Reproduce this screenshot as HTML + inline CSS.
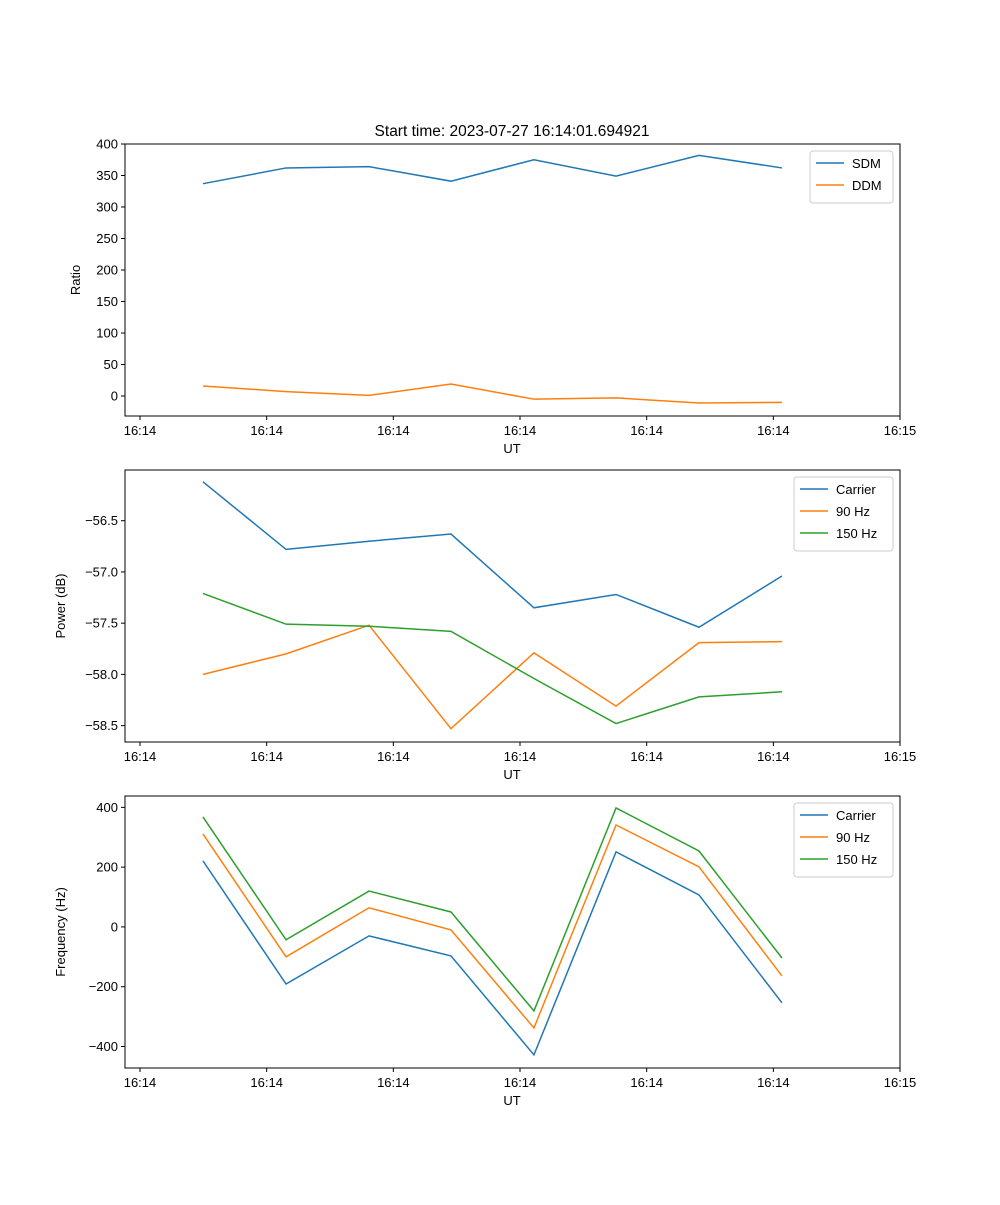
<!DOCTYPE html>
<html><head><meta charset="utf-8"><style>
body{margin:0;background:#fff}
svg{font-family:"Liberation Sans","DejaVu Sans",sans-serif}
</style></head><body>
<svg id="fig" width="1000" height="1200" xmlns="http://www.w3.org/2000/svg"></svg>
<script>
const xTickLabels=["16:14","16:14","16:14","16:14","16:14","16:14","16:15"];
const xTimes=[0.497,1.153,1.808,2.455,3.11,3.758,4.413,5.068];
const sdm=[337,362,364,341,375,349,382,362];
const ddm=[16,7,1,19,-5,-3,-11,-10];
const powCarrier=[-56.12,-56.78,-56.70,-56.63,-57.35,-57.22,-57.54,-57.04];
const pow90=[-58.0,-57.80,-57.52,-58.53,-57.79,-58.31,-57.69,-57.68];
const pow150=[-57.21,-57.51,-57.53,-57.58,-58.04,-58.48,-58.22,-58.17];
const freqCarrier=[221,-191,-30,-97,-428,251,107,-254];
const freq90=[311,-100,64,-10,-338,341,201,-164];
const freq150=[368,-43,120,50,-281,398,254,-104];
const ratioTicks=[0,50,100,150,200,250,300,350,400];
const powTicks=[-58.5,-58.0,-57.5,-57.0,-56.5];
const freqTicks=[-400,-200,0,200,400];

const NS="http://www.w3.org/2000/svg";
const svg=document.getElementById('fig');
function mk(tag,attrs,parent){const e=document.createElementNS(NS,tag);for(const k in attrs)e.setAttribute(k,attrs[k]);(parent||svg).appendChild(e);return e;}
const L=125,R=900;
const xs=t=>140+t*126.67;

function panel(name,top,bot,ymin,ymax,ticks,fmt,ylabel,series,legend){
  const g=mk('g',{});
  
  
  const ys=v=>bot-(v-ymin)/(ymax-ymin)*(bot-top);
  ticks.forEach(v=>{
    const y=ys(v);
    mk('line',{x1:L-4,x2:L,y1:y,y2:y,stroke:'#000','stroke-width':1},g);
    const t=mk('text',{x:L-7,y:y+4.5,'text-anchor':'end','font-size':13},g);t.textContent=fmt(v);
    
    
  });
  xTickLabels.forEach((s,i)=>{
    const x=xs(i);
    mk('line',{x1:x,x2:x,y1:bot,y2:bot+4,stroke:'#000','stroke-width':1},g);
    const t=mk('text',{x:x,y:bot+19,'text-anchor':'middle','font-size':13},g);t.textContent=s;
    
    
  });
  const xl=mk('text',{x:512,y:bot+37,'text-anchor':'middle','font-size':13},g);xl.textContent='UT';
  
  
  const yl=mk('text',{x:0,y:0,'text-anchor':'middle','font-size':13,transform:`translate(${name==='ratio-panel'?80:65},${(top+bot)/2}) rotate(-90)`},g);yl.textContent=ylabel;
  
  
  series.forEach(s=>{
    const p=mk('polyline',{points:s.d.map((v,i)=>xs(xTimes[i])+','+ys(v)).join(' '),fill:'none',stroke:s.c,'stroke-width':1.5},g);
    
    
  });
  mk('rect',{x:L,y:top,width:R-L,height:bot-top,fill:'none',stroke:'#000','stroke-width':1},g);
  const lg=mk('g',{},g);
  
  
  mk('rect',{x:legend.x,y:top+7,width:legend.w,height:series.length*22+8,rx:3,fill:'#fff',stroke:'#ccc'},lg);
  series.forEach((s,i)=>{
    const y=top+19+i*22;
    mk('line',{x1:legend.x+6,x2:legend.x+34,y1:y,y2:y,stroke:s.c,'stroke-width':1.5},lg);
    const t=mk('text',{x:legend.x+42,y:y+5,'font-size':13},lg);t.textContent=s.n;
    
    
  });
}
const B='#1f77b4',O='#ff7f0e',G='#2ca02c';
const title=mk('text',{x:512,y:136,'text-anchor':'middle','font-size':15.5});
title.textContent='Start time: 2023-07-27 16:14:01.694921';


panel('ratio-panel',144,416,-31.7,400,ratioTicks,v=>String(v),'Ratio',[{n:'SDM',d:sdm,c:B},{n:'DDM',d:ddm,c:O}],{x:810,w:83});
panel('power-panel',470,742,-58.66,-56.005,powTicks,v=>'\u2212'+Math.abs(v).toFixed(1),'Power (dB)',[{n:'Carrier',d:powCarrier,c:B},{n:'90 Hz',d:pow90,c:O},{n:'150 Hz',d:pow150,c:G}],{x:794,w:99});
panel('frequency-panel',796,1068,-472,438,freqTicks,v=>v<0?'\u2212'+Math.abs(v):String(v),'Frequency (Hz)',[{n:'Carrier',d:freqCarrier,c:B},{n:'90 Hz',d:freq90,c:O},{n:'150 Hz',d:freq150,c:G}],{x:794,w:99});
</script>
</body></html>
